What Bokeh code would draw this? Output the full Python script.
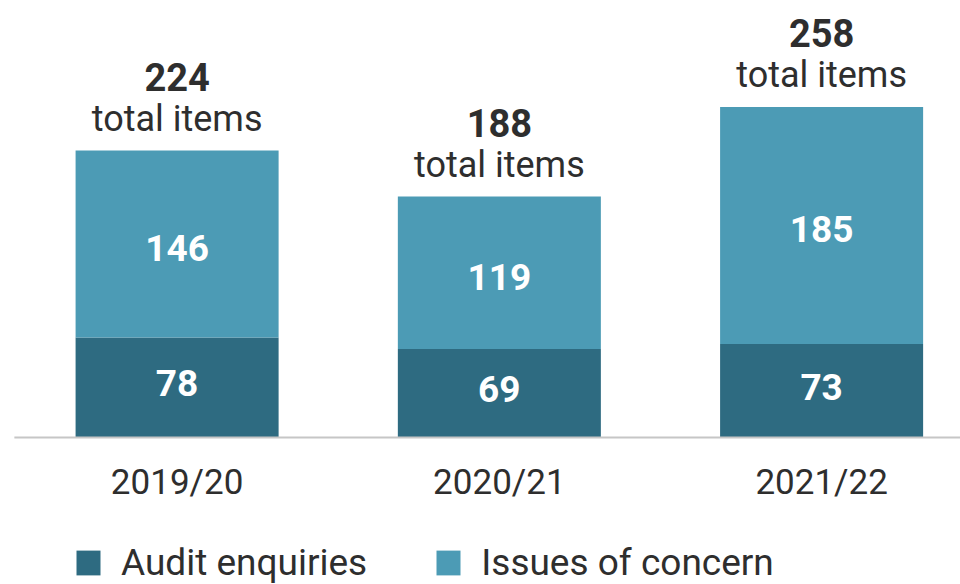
from bokeh.plotting import figure
from bokeh.models import ColumnDataSource, Range1d, Legend, LegendItem
from bokeh.core.properties import value
from bokeh.embed import file_html
from bokeh.resources import INLINE

years = ["2019/20", "2020/21", "2021/22"]
audit_enquiries = [78, 69, 73]
issues_of_concern = [146, 119, 185]

DARK = "#2e6b81"
LIGHT = "#4c9bb5"
TEXT = "#2e2e2e"
FONT = value("Roboto")

xs = list(range(len(years)))
totals = [a + b for a, b in zip(audit_enquiries, issues_of_concern)]
src = ColumnDataSource(dict(
    x=xs,
    year=years,
    audit=audit_enquiries,
    issues=issues_of_concern,
    total=totals,
    audit_mid=[a / 2 for a in audit_enquiries],
    issues_mid=[a + b / 2 for a, b in zip(audit_enquiries, issues_of_concern)],
    audit_txt=[str(v) for v in audit_enquiries],
    issues_txt=[str(v) for v in issues_of_concern],
    total_txt=[str(v) for v in totals],
    sub_txt=["total items"] * len(years),
))

p = figure(width=960, height=584, output_backend="svg", toolbar_location=None,
           x_range=Range1d(-0.548, 2.431), y_range=Range1d(-114.8, 341.1),
           min_border=0)
p.axis.visible = False
p.grid.visible = False
p.outline_line_color = None
p.background_fill_color = "white"

r_audit = p.vbar(x="x", width=0.63, bottom=0, top="audit", source=src,
                 fill_color=DARK, line_color=None)
r_issues = p.vbar(x="x", width=0.63, bottom="audit", top="total", source=src,
                  fill_color=LIGHT, line_color=None)

# baseline
p.segment(x0=-0.505, y0=0, x1=2.431, y1=0, line_color="#c6c6c6", line_width=2)

# inner labels
p.text(x="x", y="audit_mid", text="audit_txt", source=src, text_color="white",
       text_font=FONT, text_font_style="bold", text_font_size="37px",
       text_align="center", text_baseline="middle", y_offset=-4)
p.text(x="x", y="issues_mid", text="issues_txt", source=src, text_color="white",
       text_font=FONT, text_font_style="bold", text_font_size="37px",
       text_align="center", text_baseline="middle", y_offset=4)

# totals above bars
p.text(x="x", y="total", text="total_txt", source=src, text_color=TEXT,
       text_font=FONT, text_font_style="bold", text_font_size="38px",
       text_align="center", text_baseline="alphabetic", y_offset=-74)
p.text(x="x", y="total", text="sub_txt", source=src, text_color=TEXT,
       text_font=FONT, text_font_size="36px",
       text_align="center", text_baseline="alphabetic", y_offset=-32)

# category labels
p.text(x="x", y=0, text="year", source=src, text_color=TEXT,
       text_font=FONT, text_font_size="35px",
       text_align="center", text_baseline="alphabetic", y_offset=45)

legend = Legend(items=[LegendItem(label="Audit enquiries", renderers=[r_audit]),
                       LegendItem(label="Issues of concern", renderers=[r_issues])],
                orientation="horizontal", location=(73, 0),
                glyph_width=30, glyph_height=31, label_height=31,
                label_standoff=18, spacing=66, padding=0, margin=0,
                label_text_font="Roboto", label_text_font_size="37px",
                label_text_color=TEXT, border_line_color=None,
                background_fill_alpha=0)
p.add_layout(legend, "center")

open("out.html", "w").write(file_html(p, INLINE))
